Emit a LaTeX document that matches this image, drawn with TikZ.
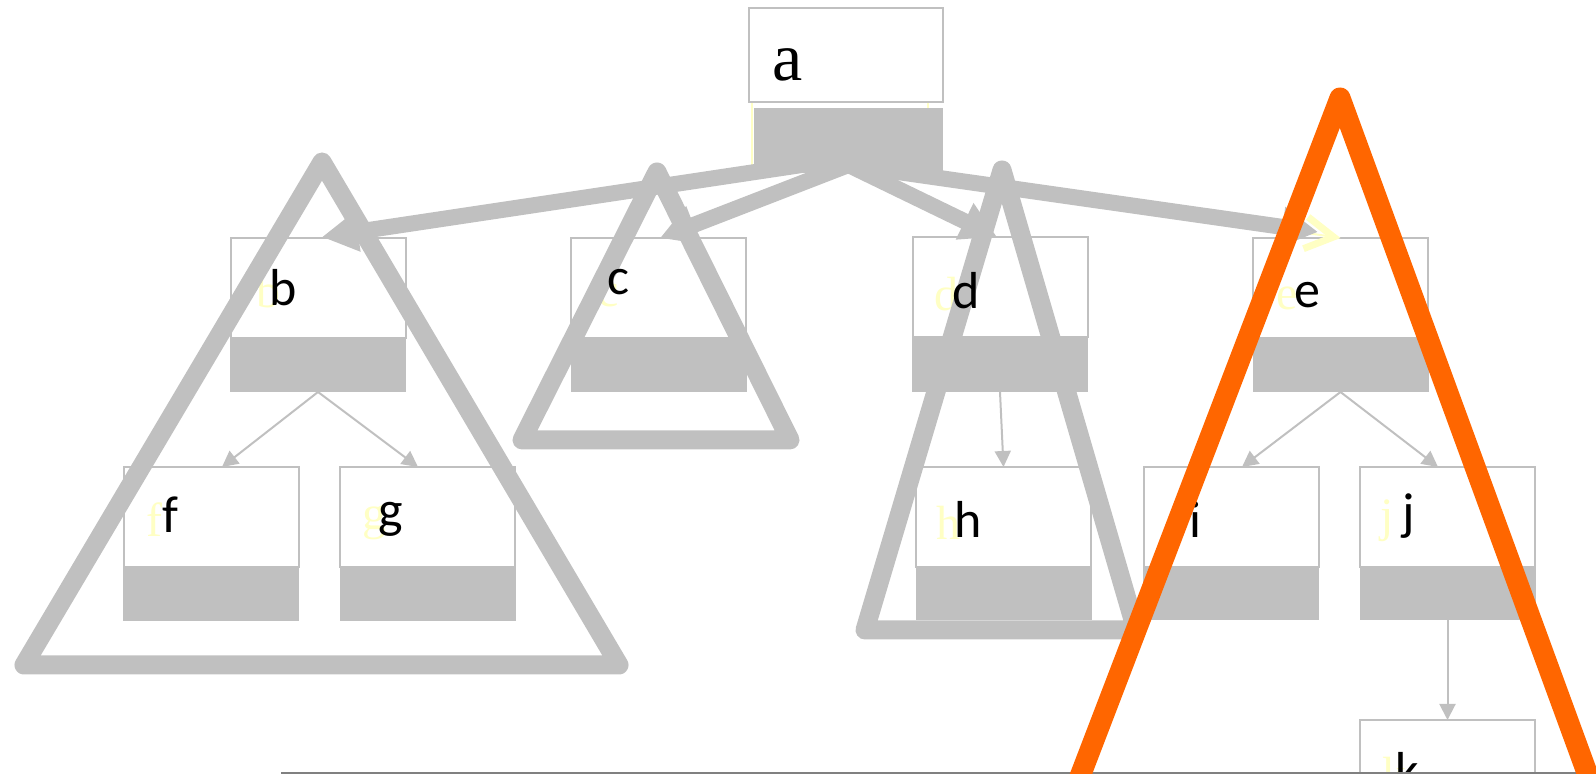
\documentclass[tikz,border=0pt]{standalone}
\usepackage{fontspec}
\setmainfont{Liberation Serif}
\newfontfamily\lblfont{Carlito}
\newfontfamily\rootfont{Liberation Serif}
\usetikzlibrary{arrows.meta,calc}
\definecolor{boxgray}{RGB}{192,192,192}
\definecolor{ghost}{RGB}{255,255,196}
\definecolor{orng}{RGB}{255,102,0}
\definecolor{basegray}{RGB}{128,128,128}
\tikzset{
  boxtop/.style={draw=boxgray, line width=1pt, fill=white, minimum width=87.5pt, minimum height=50pt, inner sep=0pt, outer sep=0pt},
  boxbar/.style={fill=boxgray, draw=none, minimum width=88pt, minimum height=27pt, inner sep=0pt, outer sep=0pt},
  thinlink/.style={draw=boxgray, line width=1pt, -{Triangle[length=8pt 0 1, width=8pt 0 1]}},
  thicklink/.style={draw=boxgray, line width=8pt, -{Triangle[length=18pt 0 1, width=19pt 0 1]}},
  ghostlink/.style={draw=ghost, line width=1pt, -{Straight Barb[length=14pt 0 1, width=16pt 0 1, line width=3.5pt]}},
  grtri/.style={draw=boxgray, line width=9.5pt, line join=round, line cap=round},
  ortri/.style={draw=orng, line width=10.5pt, line join=round},
  lbl/.style={anchor=base west, inner sep=0pt, outer sep=0pt, text=black, font=\lblfont\fontsize{26pt}{30pt}\selectfont},
  ghostlbl/.style={anchor=base west, inner sep=0pt, outer sep=0pt, text=ghost, font=\rootfont\fontsize{24pt}{28pt}\selectfont},
}
\begin{document}
\begin{tikzpicture}[x=0.5pt,y=-0.5pt]
\useasboundingbox (0,0) rectangle (1596,774);
\clip (0,0) rectangle (1596,774);

% ghost outline of the root
\node[draw=ghost, line width=1pt, minimum width=88pt, minimum height=80pt, inner sep=0pt, outer sep=0pt] (aghost) at (840,90) {};

% boxes
\node[boxtop, minimum width=97pt, minimum height=47pt] (a) at (846,55) {};
\node[boxtop] (b) at (318,288) {};
\node[boxbar] (bbar) at (318,365) {};
\node[boxtop] (c) at (658.5,288) {};
\node[boxbar] (cbar) at (658.5,365) {};
\node[boxtop] (d) at (1000,287) {};
\node[boxbar] (dbar) at (1000,365) {};
\node[boxtop] (e) at (1340.5,288) {};
\node[boxbar] (ebar) at (1340.5,365) {};
\node[boxtop] (f) at (211,517) {};
\node[boxbar] (fbar) at (211,594) {};
\node[boxtop] (g) at (427.5,517) {};
\node[boxbar] (gbar) at (427.5,594) {};
\node[boxtop] (h) at (1003.5,517) {};
\node[boxbar] (hbar) at (1003.5,593) {};
\node[boxtop] (i) at (1231,517) {};
\node[boxbar] (ibar) at (1231,593) {};
\node[boxtop] (j) at (1447.5,517) {};
\node[boxbar] (jbar) at (1447.5,593) {};
\node[boxtop] (k) at (1447.5,770) {};

% thin connectors
\draw[thinlink] (bbar.south) -- ($(f.north)+(11,0)$);
\draw[thinlink] (bbar.south) -- ($(g.north)+(-9.5,0)$);
\draw[thinlink] (dbar.south) -- (h.north);
\draw[thinlink] (ebar.south) -- ($(i.north)+(11,0)$);
\draw[thinlink] (ebar.south) -- ($(j.north)+(-9.5,0)$);
\draw[thinlink] (jbar.south) -- (k.north);

% root bar position and connector hubs
\node[boxbar, minimum width=94.5pt, minimum height=32.5pt] (abar) at (848.5,140.5) {};
\coordinate (hub) at ($(abar.south)+(0,-8)$);
\coordinate (hubb) at ($(abar.south)+(0,-15)$);

% thick connectors
\draw[ghostlink] (hub) -- (e.north);
\draw[thicklink] (hubb) -- ($(b.north)+(4,-1)$);
\draw[thicklink] (hub) -- ($(c.north)+(1.5,0)$);
\draw[thicklink] (hub) -- ($(d.north)+(-3,0)$);
\draw[thicklink] (hub) -- ($(e.north)+(-22.5,-6)$);
\fill[boxgray] (abar.north west) rectangle (abar.south east);

% ghost labels
\node[ghostlbl] (gb) at (256,308) {b};
\node[ghostlbl] (gc) at (597,307) {c};
\node[ghostlbl] (gd) at (934,311) {d};
\node[ghostlbl] (ge) at (1276,310) {e};
\node[ghostlbl] (gf) at (146,537) {f};
\node[ghostlbl] (gg) at (362,530) {g};
\node[ghostlbl] (gh) at (936,540) {h};
\node[ghostlbl] (gi) at (1169,540) {i};
\node[ghostlbl] (gj) at (1380,532) {j};
\node[ghostlbl] (gk) at (1382,790) {k};

% gray triangles
\draw[grtri] (322,162) -- (24,665) -- (619,665) -- cycle;
\draw[grtri] (657,172) -- (522,440) -- (790,440) -- cycle;
\draw[grtri] (1002,170) -- (865,630) -- (1136,630) -- cycle;

% labels
\node[anchor=base west, inner sep=0pt, text=black, font=\rootfont\fontsize{34pt}{38pt}\selectfont] (la) at (772,81) {a};
\node[lbl] (lb) at (269,306) {b};
\node[lbl] (lc) at (607,295) {c};
\node[lbl] (ld) at (952,309) {d};
\node[lbl] (le) at (1294,308) {e};
\node[lbl] (lf) at (162,533) {f};
\node[lbl] (lg) at (378,528) {g};
\node[lbl] (lh) at (954,538) {h};
\node[lbl] (li) at (1189,538) {i};
\node[lbl] (lj) at (1402,530) {j};
\node[lbl] (lk) at (1395,788) {k};

% base line
\draw[basegray, line width=1pt] (281,773) -- (1600,773);

% orange triangle
\draw[ortri] (1071,800) -- (1340,98) -- (1597,800);
\end{tikzpicture}
\end{document}
